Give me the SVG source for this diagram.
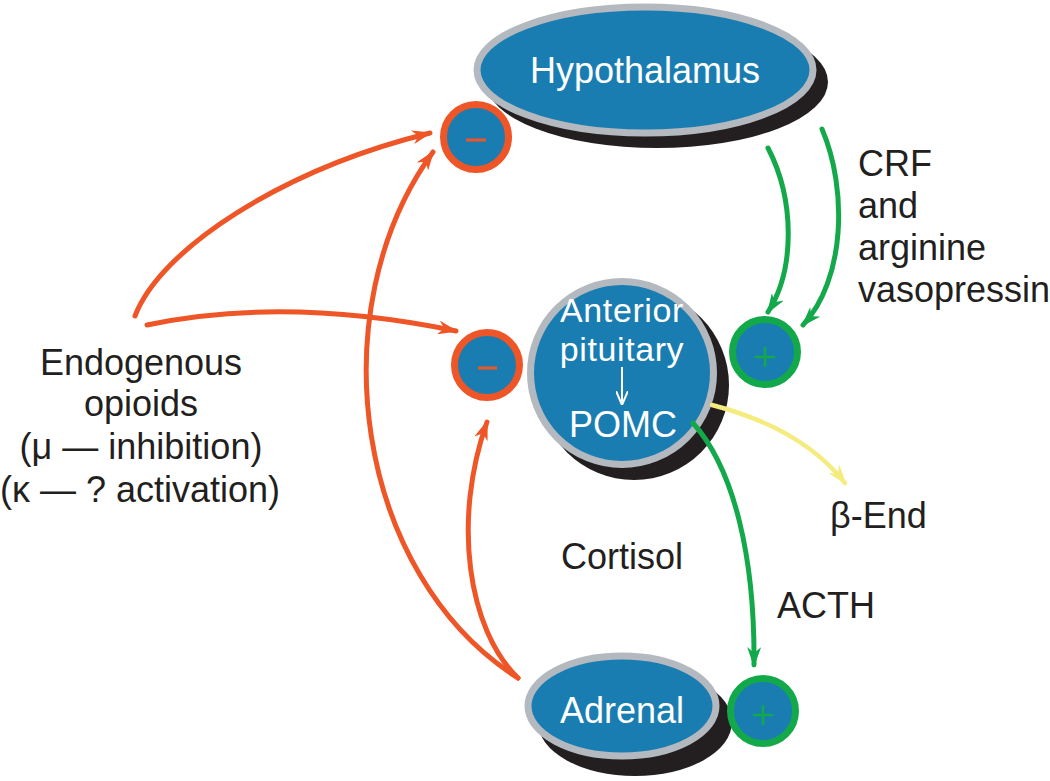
<svg xmlns="http://www.w3.org/2000/svg" width="1050" height="781" viewBox="0 0 1050 781">
<style>
.t{font-family:"Liberation Sans",Arial,Helvetica,sans-serif;font-size:36px;fill:#231F20}
.w{font-family:"Liberation Sans",Arial,Helvetica,sans-serif;font-size:36px;fill:#FFFFFF}
.ws{font-family:"Liberation Sans",Arial,Helvetica,sans-serif;font-size:34px;letter-spacing:0.6px;fill:#FFFFFF}
.node{fill:#1A7DB1;stroke:#B3B9BF;stroke-width:7}
.shadow{fill:#231F20}
.neg{fill:#1A7DB1;stroke:#EE5527;stroke-width:7}
.pos{fill:#1A7DB1;stroke:#13A94B;stroke-width:7}
.o{fill:none;stroke:#EE5527;stroke-width:5;stroke-linecap:round}
.g{fill:none;stroke:#13A94B;stroke-width:5;stroke-linecap:round}
.y{fill:none;stroke:#F5EC80;stroke-width:4.5;stroke-linecap:round}
</style>
<defs>
<marker id="ao" viewBox="0 0 20 14" markerWidth="20" markerHeight="14" markerUnits="userSpaceOnUse" refX="18" refY="7" orient="auto"><path d="M0,0 L20,7 L0,14 L6,7 Z" fill="#EE5527"/></marker>
<marker id="ag" viewBox="0 0 20 14" markerWidth="20" markerHeight="14" markerUnits="userSpaceOnUse" refX="18" refY="7" orient="auto"><path d="M0,0 L20,7 L0,14 L6,7 Z" fill="#13A94B"/></marker>
<marker id="ay" viewBox="0 0 20 14" markerWidth="20" markerHeight="14" markerUnits="userSpaceOnUse" refX="18" refY="7" orient="auto"><path d="M0,0 L20,7 L0,14 L6,7 Z" fill="#F5EC80"/></marker>
<marker id="aw" viewBox="0 0 14 12" markerWidth="14" markerHeight="12" markerUnits="userSpaceOnUse" refX="13" refY="6" orient="auto"><path d="M0,0 L14,6 L0,12" fill="none" stroke="#FFFFFF" stroke-width="2"/></marker>
</defs>
<rect width="1050" height="781" fill="#FFFFFF"/>

<g id="hypothalamus">
<ellipse class="shadow" cx="657" cy="82" rx="171" ry="66"/>
<ellipse class="node" cx="645" cy="70" rx="168" ry="63"/>
<text class="w" x="645" y="83" text-anchor="middle">Hypothalamus</text>
</g>

<g id="anterior-pituitary">
<circle class="shadow" cx="634" cy="385" r="95"/>
<circle class="node" cx="622" cy="373" r="91.5"/>
<text class="ws" x="622" y="322" text-anchor="middle">Anterior</text>
<text class="ws" x="622" y="361" text-anchor="middle">pituitary</text>
<line x1="622" y1="367" x2="622" y2="404" stroke="#FFFFFF" stroke-width="2" marker-end="url(#aw)"/>
<text class="w" x="623" y="437" text-anchor="middle">POMC</text>
</g>

<g id="adrenal">
<ellipse class="shadow" cx="635" cy="722" rx="97" ry="54"/>
<ellipse class="node" cx="622" cy="706" rx="94" ry="50"/>
<text class="w" x="622" y="723" text-anchor="middle">Adrenal</text>
</g>

<g id="minus-hypothalamus">
<circle class="neg" cx="476" cy="137" r="32.5"/>
<line x1="466" y1="140" x2="486" y2="140" stroke="#EE5527" stroke-width="3"/>
</g>

<g id="minus-pituitary">
<circle class="neg" cx="487" cy="365" r="32.5"/>
<line x1="478" y1="368" x2="497" y2="368" stroke="#EE5527" stroke-width="3"/>
</g>

<g id="plus-pituitary">
<circle class="pos" cx="765" cy="352" r="32.5"/>
<line x1="755" y1="357" x2="775" y2="357" stroke="#13A94B" stroke-width="2.5"/>
<line x1="765" y1="347" x2="765" y2="367" stroke="#13A94B" stroke-width="2.5"/>
</g>

<g id="plus-adrenal">
<circle class="pos" cx="763" cy="711" r="32.5"/>
<line x1="753" y1="715" x2="773" y2="715" stroke="#13A94B" stroke-width="2.5"/>
<line x1="763" y1="705" x2="763" y2="725" stroke="#13A94B" stroke-width="2.5"/>
</g>

<g id="endogenous-opioids">
<text class="t" x="141" y="375" text-anchor="middle">Endogenous</text>
<text class="t" x="141" y="416" text-anchor="middle">opioids</text>
<text class="t" x="141" y="459" text-anchor="middle">(μ — inhibition)</text>
<text class="t" x="140" y="502" text-anchor="middle">(κ — ? activation)</text>
</g>

<g id="labels">
<text class="t" x="858" y="176">CRF</text>
<text class="t" x="858" y="218">and</text>
<text class="t" x="858" y="260">arginine</text>
<text class="t" x="858" y="302">vasopressin</text>
<text class="t" x="561" y="569">Cortisol</text>
<text class="t" x="830" y="528">β-End</text>
<text class="t" x="777" y="618">ACTH</text>
</g>

<g id="connectors">
<path class="o" d="M135,316 C160,250 280,170 430,133" marker-end="url(#ao)"/>
<path class="o" d="M147,325 Q285,296 456,331" marker-end="url(#ao)"/>
<path class="o" d="M518,678 C355,575 318,310 433,152" marker-end="url(#ao)"/>
<path class="o" d="M518,678 C468,630 452,520 487,422" marker-end="url(#ao)"/>
<path class="g" d="M768,148 C795,200 795,270 768,312" marker-end="url(#ag)"/>
<path class="g" d="M822,129 C848,190 845,280 803,325" marker-end="url(#ag)"/>
<path class="g" d="M693,423 C735,470 755,560 754,665" marker-end="url(#ag)"/>
<path class="y" d="M712,405 C770,420 815,445 845,483" marker-end="url(#ay)"/>
</g>
</svg>
